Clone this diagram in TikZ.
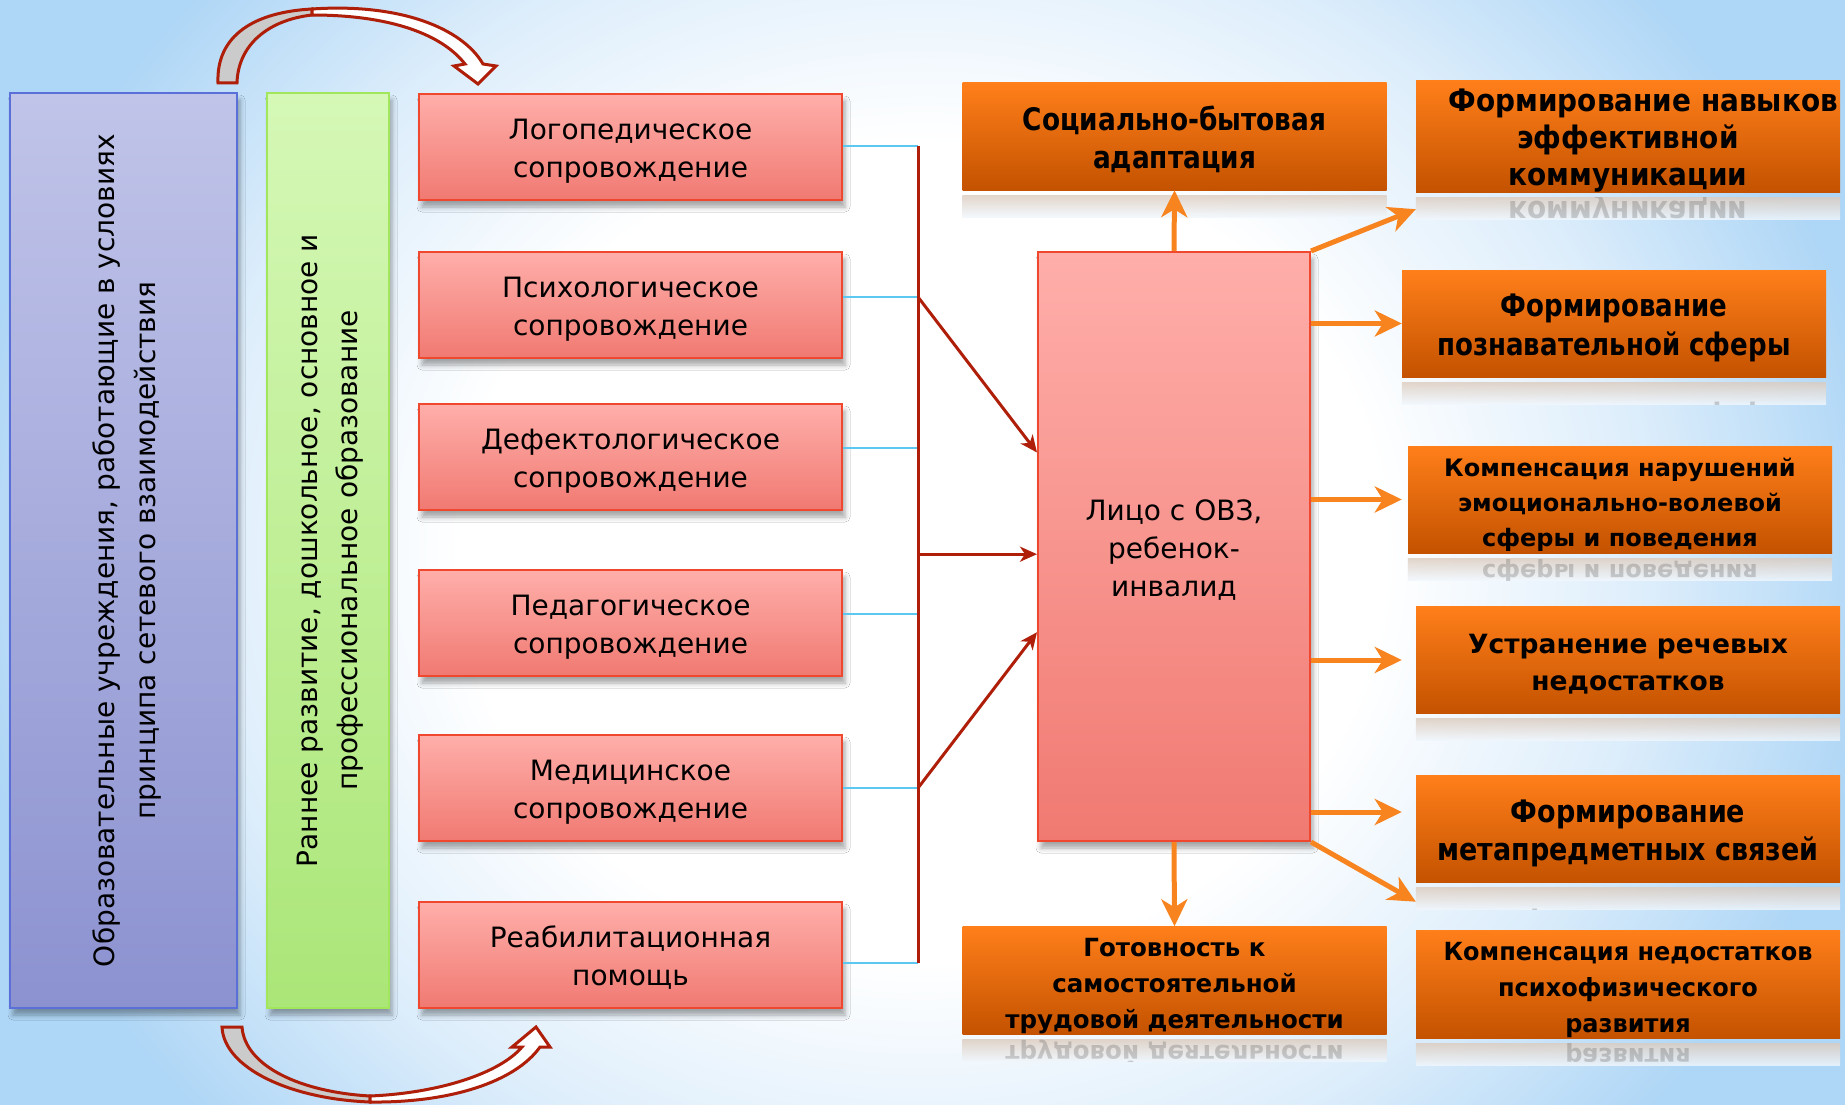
\documentclass[tikz,border=0pt]{standalone}
\usepackage{fontspec}
\setmainfont{DejaVu Sans}
\usepackage{graphicx}
\usetikzlibrary{arrows.meta,shadows.blur,calc}
\definecolor{bgblue}{HTML}{AED6F6}
\definecolor{bgmid}{HTML}{DCEDFB}
\definecolor{pinktop}{HTML}{FFAEAA}
\definecolor{pinkbot}{HTML}{F07A72}
\definecolor{pinkline}{HTML}{F0482E}
\definecolor{bluetop}{HTML}{C0C4E9}
\definecolor{bluebot}{HTML}{8C92D0}
\definecolor{blueline}{HTML}{5A70D8}
\definecolor{greentop}{HTML}{D5F8B6}
\definecolor{greenbot}{HTML}{ABE678}
\definecolor{greenline}{HTML}{A2E65C}
\definecolor{orgtop}{HTML}{FF7F1A}
\definecolor{orgbot}{HTML}{C45200}
\definecolor{orgarrow}{HTML}{F7841F}
\definecolor{darkred}{HTML}{AE1E08}
\definecolor{cyanline}{HTML}{5CC8F2}
\definecolor{refltop}{HTML}{DCCBBE}
\definecolor{graybody}{HTML}{CBCBCB}
\pgfdeclareradialshading{bgsh}{\pgfpoint{0bp}{0bp}}{color(0bp)=(white); color(12bp)=(white); color(19bp)=(bgmid); color(25bp)=(bgblue); color(50bp)=(bgblue)}
% #1 size, #2 line skip, #3 horizontal scale, #4 lines
\newcommand\otext[4]{\fontsize{#1}{#2}\selectfont\raisebox{-5pt}[\height][\depth]{\scalebox{#3}[1]{\begin{tabular}{@{}c@{}}#4\end{tabular}}}}
% #1 lowering, #2 lines
\newcommand\ltext[2]{\raisebox{-#1}[\height][\depth]{\begin{tabular}{@{}c@{}}#2\end{tabular}}}
\newcommand\mtext[3]{\fontsize{#1}{#1}\selectfont\scalebox{#2}[1]{#3}}
\begin{document}
\begin{tikzpicture}[x=1pt,y=-1pt,
  shad/.style={blur shadow={shadow xshift=3pt,shadow yshift=-7pt,shadow blur radius=5pt,shadow opacity=35}},
  bluebox/.style={shad,draw=blueline,line width=2pt,top color=bluetop,bottom color=bluebot,minimum width=227pt,minimum height=915pt,inner sep=0pt,font=\fontsize{28}{41}\selectfont},
  greenbox/.style={shad,draw=greenline,line width=2pt,top color=greentop,bottom color=greenbot,minimum width=122pt,minimum height=915pt,inner sep=0pt,font=\fontsize{28}{40}\selectfont},
  pinkbox/.style={shad,draw=pinkline,line width=2pt,top color=pinktop,bottom color=pinkbot,minimum width=423pt,minimum height=106pt,inner sep=0pt,font=\fontsize{28}{38}\selectfont},
  centerbox/.style={shad,draw=pinkline,line width=2pt,top color=pinktop,bottom color=pinkbot,minimum width=272pt,minimum height=589pt,inner sep=0pt,font=\fontsize{28}{38}\selectfont},
  orbox/.style={top color=orgtop,bottom color=orgbot,minimum width=424pt,minimum height=107pt,inner sep=0pt,font=\bfseries},
  mirr/.style={opacity=0.25,yscale=-1,transform shape,inner sep=0pt,font=\bfseries,text=black!70},
  cyanc/.style={draw=cyanline,line width=2pt},
  redline/.style={draw=darkred,line width=3pt},
  redarr/.style={draw=darkred,line width=3pt,-{Stealth[length=17pt,width=15pt,inset=5pt]}},
  orarr/.style={draw=orgarrow,line width=5pt,-{Stealth[length=27pt,width=26pt,inset=8pt]}},
  curvar/.style={draw=darkred,line width=3pt,line join=miter}]
\useasboundingbox (0,0) rectangle (1845,1105);
\begin{scope}
\clip (0,0) rectangle (1845,1105);
\shade[shading=bgsh] (-40,-300) rectangle (1885,1405);
\end{scope}
% left column boxes
\node[bluebox] (edu) at (123.5,550.5) {\rotatebox{90}{\ltext{3pt}{Образовательные учреждения, работающие в условиях\\принципа сетевого взаимодействия}}};
\node[greenbox] (lvl) at (328,550.5) {\rotatebox{90}{\ltext{1.5pt}{Раннее развитие, дошкольное, основное и\\профессиональное образование}}};
% pink boxes
\node[pinkbox] (p1) at (630.5,147) {\ltext{4pt}{Логопедическое\\сопровождение}};
\node[pinkbox] (p2) at (630.5,305) {\ltext{4pt}{Психологическое\\сопровождение}};
\node[pinkbox] (p3) at (630.5,457) {\ltext{4pt}{Дефектологическое\\сопровождение}};
\node[pinkbox] (p4) at (630.5,623) {\ltext{4pt}{Педагогическое\\сопровождение}};
\node[pinkbox] (p5) at (630.5,788) {\ltext{4pt}{Медицинское\\сопровождение}};
\node[pinkbox] (p6) at (630.5,955) {\ltext{4pt}{Реабилитационная\\помощь}};
% center
\node[centerbox] (ctr) at (1174,546.5) {\ltext{4pt}{Лицо с ОВЗ,\\ребенок-\\инвалид}};
% connectors
\coordinate (v1) at (918,146);
\coordinate (v2) at (918,297);
\coordinate (v3) at (918,448);
\coordinate (v4) at (918,614);
\coordinate (v5) at (918,788);
\coordinate (v6) at (918,963);
\draw[cyanc] (p1.east |- v1) -- (v1);
\draw[cyanc] (p2.east |- v2) -- (v2);
\draw[cyanc] (p3.east |- v3) -- (v3);
\draw[cyanc] (p4.east |- v4) -- (v4);
\draw[cyanc] (p5.east |- v5) -- (v5);
\draw[cyanc] (p6.east |- v6) -- (v6);
\draw[redline] (v1) -- (v6);
\coordinate (t1) at ($(ctr.north west)!0.341!(ctr.south west)$);
\coordinate (t2) at ($(ctr.north west)!0.513!(ctr.south west)$);
\coordinate (t3) at ($(ctr.north west)!0.645!(ctr.south west)$);
\draw[redarr] (v2) -- (t1);
\draw[redarr] (v1 |- t2) -- (t2);
\draw[redarr] (v5) -- (t3);
% orange boxes
\node[orbox] (o1) at (1174.5,136.5) {\otext{31}{38}{0.85}{Социально-бытовая\\адаптация}};
\node[orbox] (o2) at (1628,136.5) {\otext{31}{37}{0.9}{\hspace*{34pt}Формирование навыков\\эффективной\\коммуникации}};
\node[orbox] (o3) at (1614,323.5) {\otext{31}{38.5}{0.84}{Формирование\\познавательной сферы}};
\node[orbox] (o4) at (1620,499.5) {\otext{24}{35}{1}{Компенсация нарушений\\эмоционально-волевой\\сферы и поведения}};
\node[orbox] (o5) at (1628,660) {\otext{26.5}{37}{1}{Устранение речевых\\недостатков}};
\node[orbox] (o6) at (1628,829) {\otext{31}{37.6}{0.87}{Формирование\\метапредметных связей}};
\node[orbox] (o7) at (1174.5,980.5) {\otext{25}{36}{0.98}{Готовность к\\самостоятельной\\трудовой деятельности}};
\node[orbox] (o8) at (1628,984) {\otext{25}{36}{0.96}{Компенсация недостатков\\психофизического\\развития}};
% reflections
\foreach \b/\c/\s/\sc/\t [count=\i] in {o1/{1174.5,230}/31/0.85/адаптация, o2/{1628,207}/31/0.9/коммуникации, o3/{1614,417}/31/0.84/познавательной сферы, o4/{1620,571}/24/1/сферы и поведения, o5/{1628,754}/26.5/1/недостатков, o6/{1628,924}/31/0.87/метапредметных связей, o7/{1174.5,1052}/25/0.98/трудовой деятельности, o8/{1628,1053}/25/0.96/развития}{
  \shade[top color=refltop,bottom color=white!60!bgmid,opacity=0.8] ([yshift=-5pt]\b.south west) rectangle ([yshift=-27pt]\b.south east);
  \begin{scope}
  \clip ([yshift=-5pt]\b.south west) rectangle ([yshift=-27pt]\b.south east);
  \node[mirr] (m\i) at (\c) {\mtext{\s}{\sc}{\t}};
  \end{scope}
}
% orange arrows
\coordinate (e2) at ([yshift=-17pt]o2.south west);
\coordinate (e4) at ([xshift=-6pt]o4.west);
\coordinate (e5) at ([xshift=-14pt]o5.west);
\coordinate (e6) at ([xshift=-14pt,yshift=17pt]o6.west);
\coordinate (e6b) at ([yshift=-19pt]o6.south west);
\draw[orarr] (ctr.north) -- (o1.south);
\draw[orarr] (ctr.south) -- (o7.north);
\draw[orarr] (ctr.north east) -- (e2);
\draw[orarr] (ctr.east |- o3.west) -- (o3.west);
\draw[orarr] (ctr.east |- e4) -- (e4);
\draw[orarr] (ctr.east |- e5) -- (e5);
\draw[orarr] (ctr.east |- e6) -- (e6);
\draw[orarr] (ctr.south east) -- (e6b);
% curved block arrows
\draw[curvar,fill=graybody] (218,83) .. controls (216,35) and (255,12) .. (312,9) -- (312,15) .. controls (268,20) and (238,45) .. (237,83) -- cycle;
\draw[curvar,fill=white] (312,9) .. controls (400,3) and (462,28) .. (483,64) -- (496,66) -- (478,84) -- (454,66) -- (465,64) .. controls (440,32) and (385,15) .. (312,15) -- cycle;
\draw[curvar,fill=graybody] (222,1027) .. controls (224,1068) and (290,1099) .. (370,1102) -- (370,1096) .. controls (300,1092) and (245,1066) .. (242,1027) -- cycle;
\draw[curvar,fill=white] (370,1102) .. controls (450,1103) and (515,1082) .. (540,1047) -- (550,1047) -- (536,1027) -- (512,1047) -- (522,1047) .. controls (500,1073) and (440,1093) .. (370,1096) -- cycle;
\end{tikzpicture}
\end{document}
